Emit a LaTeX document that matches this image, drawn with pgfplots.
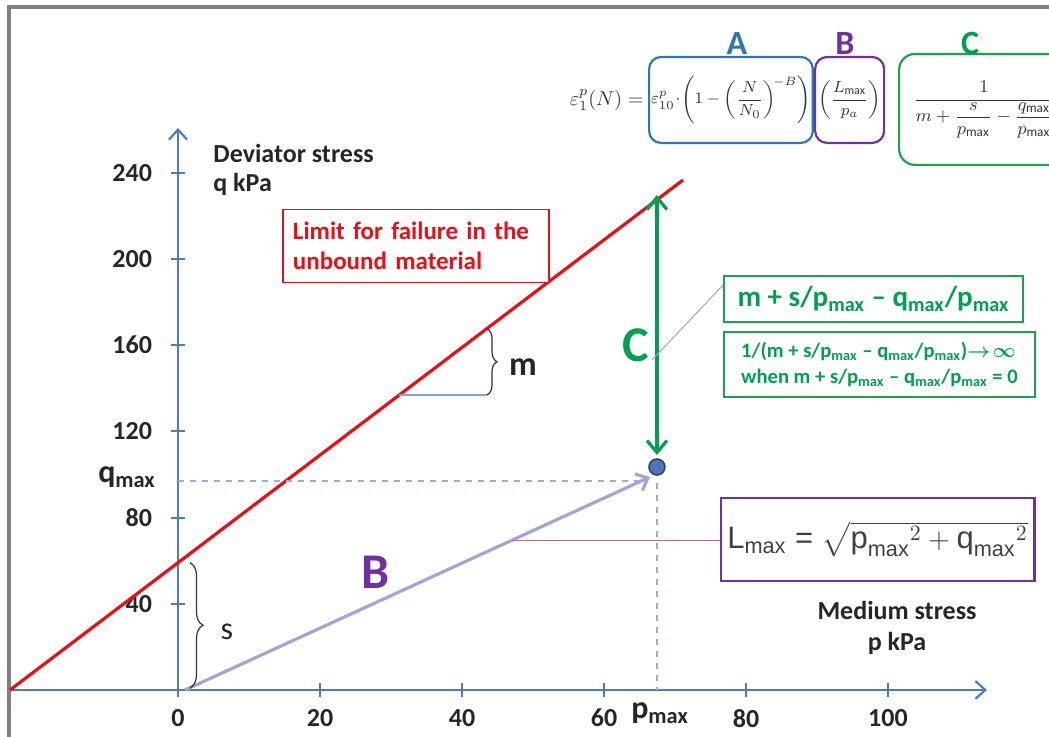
\documentclass[border=0pt]{standalone}
\usepackage{amsmath}
\usepackage{fontspec}
\setmainfont{Carlito}
\newfontfamily\arial{Liberation Sans}
\usepackage{pgfplots}
\pgfplotsset{compat=1.18}
\usetikzlibrary{arrows.meta,decorations.pathreplacing}
\definecolor{axblue}{RGB}{74,126,187}
\definecolor{myred}{RGB}{232,16,24}
\definecolor{mygreen}{RGB}{0,160,80}
\definecolor{boxgreen}{RGB}{30,160,80}
\definecolor{mypurple}{RGB}{112,48,160}
\definecolor{lav}{RGB}{170,162,210}
\definecolor{dashblue}{RGB}{150,175,220}
\definecolor{dotblue}{RGB}{80,114,184}
\definecolor{Ablue}{RGB}{46,117,182}
\definecolor{framegray}{RGB}{128,128,128}
\begin{document}
\begin{tikzpicture}
\useasboundingbox (-89pt,-23.5pt) rectangle (435.5pt,345pt);
\begin{axis}[
  anchor=origin, at={(0pt,0pt)},
  x=3.55pt, y=1.0775pt,
  xmin=-23.8, xmax=113.94, ymin=0, ymax=260.8,
  axis lines=middle,
  axis line style={axblue, line width=1.1pt, -{Straight Barb[length=5pt,width=9pt]}},
  clip=false,
  xtick={0,20,40,60,80,100},
  ytick={40,80,120,160,200,240},
  hide obscured x ticks=false,
  hide obscured y ticks=false,
  tick style={axblue, line width=1pt},
  major tick length=7pt, tick align=center,
  /pgf/number format/assume math mode=true,
  tick label style={font=\fontsize{13}{15}\selectfont\bfseries, text=black!85},
  xticklabel style={yshift=-2.5pt},
  yticklabel style={xshift=-6pt},
]
% frame
\draw[framegray, line width=1.6pt] (-23.8,-40) -- (-23.8,316.9) -- (130,316.9);

% data lines
\addplot[myred, line width=1.6pt] coordinates {(-23.66,0) (71.13,236.66)};
\addplot[lav, line width=1.6pt, -{Straight Barb[length=5pt,width=9pt]}] coordinates {(0.99,0) (66.48,98.84)};
\addplot[dashblue, dashed, line width=0.6pt] coordinates {(0,96.98) (65.77,96.98)};
\addplot[dashblue, dashed, line width=0.6pt] coordinates {(67.46,96) (67.46,0)};
\addplot[mygreen, line width=1.6pt, {Straight Barb[length=6pt,width=10pt]}-{Straight Barb[length=6pt,width=10pt]}] coordinates {(67.46,229.7) (67.46,109.05)};
\addplot[only marks, mark=*, mark size=4pt, mark options={fill=dotblue, draw=dotblue!60!black, line width=0.8pt}] coordinates {(67.46,103.48)};

% m bracket
\draw[axblue!70, line width=0.6pt] (31.17,136.9) -- (43.52,136.9);
\draw[black!80, line width=0.6pt, decorate, decoration={brace, amplitude=5pt}] (43.52,167.7) -- (43.52,136.9);
\node[font=\fontsize{17}{20}\selectfont\bfseries, text=black!85] at (48.6,149.9) {m};

% s bracket
\draw[black!80, line width=0.6pt, decorate, decoration={brace, amplitude=6.5pt}] (1.69,59.08) -- (1.69,1);
\node[font=\fontsize{16}{18}\selectfont, text=black!85] at (6.9,26.9) {s};

% axis titles
\node[anchor=north west, align=left, inner sep=0pt, font=\fontsize{13}{14.5}\selectfont\bfseries, text=black!85] at (4.93,253.5) {Deviator stress\\q kPa};
\node[align=center, font=\fontsize{13}{15.5}\selectfont\bfseries, text=black!85] at (101.27,28.8) {Medium stress\\p kPa};
\node[font=\fontsize{16}{18}\selectfont\bfseries, text=black!85] at (-7.18,98.8) {q\textsubscript{max}};
\node[font=\fontsize{16}{18}\selectfont\bfseries, text=black!85] at (67.89,-10.67) {p\textsubscript{max}};

% red label
\node[draw=myred, line width=0.8pt, text=myred, font=\fontsize{12.5}{15}\selectfont\bfseries, align=left, text width=123pt, inner xsep=5pt, minimum height=36.5pt, fill=white] at (33.52,206.0) {Limit for failure in the\\unbound material};

% big letters
\node[text=mypurple, font=\fontsize{25}{28}\selectfont\bfseries] at (27.75,54.76) {B};
\node[text=mygreen, font=\fontsize{25}{28}\selectfont\bfseries] at (64.51,160.09) {C};

% green boxes
\draw[gray!70, line width=0.5pt] (66.76,153.1) -- (77.46,190.3);
\node[draw=boxgreen, line width=1pt, text=mygreen, font=\fontsize{14.5}{16}\selectfont\bfseries, minimum width=149.5pt, minimum height=23pt, inner xsep=2pt, fill=white] at (97.96,181.4) {m + s/p\textsubscript{max} – q\textsubscript{max}/p\textsubscript{max}};
\node[draw=boxgreen, line width=1pt, text=mygreen, font=\fontsize{10.3}{13}\selectfont\bfseries, align=left, minimum width=155.5pt, minimum height=32.5pt, inner xsep=2pt, fill=white] at (98.8,151.0) {1/(m + s/p\textsubscript{max} – q\textsubscript{max}/p\textsubscript{max})$\boldsymbol{\rightarrow\!\infty}$\\when m + s/p\textsubscript{max} – q\textsubscript{max}/p\textsubscript{max} = 0};

% Lmax box
\draw[mypurple!70, line width=0.5pt] (47.1,69.6) -- (76.62,69.6);
\node[draw=mypurple, line width=1.1pt, minimum width=155.5pt, minimum height=41.5pt, fill=white, text=black!75, font=\arial\fontsize{15.5}{18}\selectfont] at (98.52,69.84) {L$_{\text{max}}$ = $\sqrt{\text{p}_{\text{max}}{}^{2} + \text{q}_{\text{max}}{}^{2}}$};

% formula
\node[anchor=east, inner sep=0pt, font=\fontsize{10}{12}\selectfont, text=black!80] at (65.6,273.8) {$\varepsilon_1^p(N) =$};
\node[draw=Ablue, line width=1.1pt, rounded corners=6pt, anchor=west, minimum width=81pt, minimum height=43pt, inner sep=1pt, font=\fontsize{8}{10}\selectfont, text=black!80] at (66.2,273.8) {$\displaystyle \varepsilon_{10}^p\!\cdot\!\left(1-\left(\frac{N}{N_0}\right)^{\!-B}\right)$};
\node[draw=mypurple, line width=1.1pt, rounded corners=6pt, anchor=west, minimum width=34.5pt, minimum height=43pt, inner sep=1pt, font=\fontsize{8}{10}\selectfont, text=black!80] at (89.58,273.8) {$\displaystyle \left(\frac{L_{\max}}{p_a}\right)$};
\node[draw=boxgreen, line width=1.1pt, rounded corners=8pt, anchor=west, minimum width=85pt, minimum height=55.5pt, inner sep=3pt, font=\fontsize{9.5}{12}\selectfont, text=black!80] at (101.41,269.4) {$\displaystyle \frac{1}{m+\dfrac{s}{p_{\max}}-\dfrac{q_{\max}}{p_{\max}}}$};
\node[text=Ablue, font=\fontsize{17}{20}\selectfont\bfseries] at (78.73,300.2) {A};
\node[text=mypurple, font=\fontsize{17}{20}\selectfont\bfseries] at (93.94,300.2) {B};
\node[text=mygreen, font=\fontsize{17}{20}\selectfont\bfseries] at (111.55,300.2) {C};
\end{axis}
\end{tikzpicture}
\end{document}
